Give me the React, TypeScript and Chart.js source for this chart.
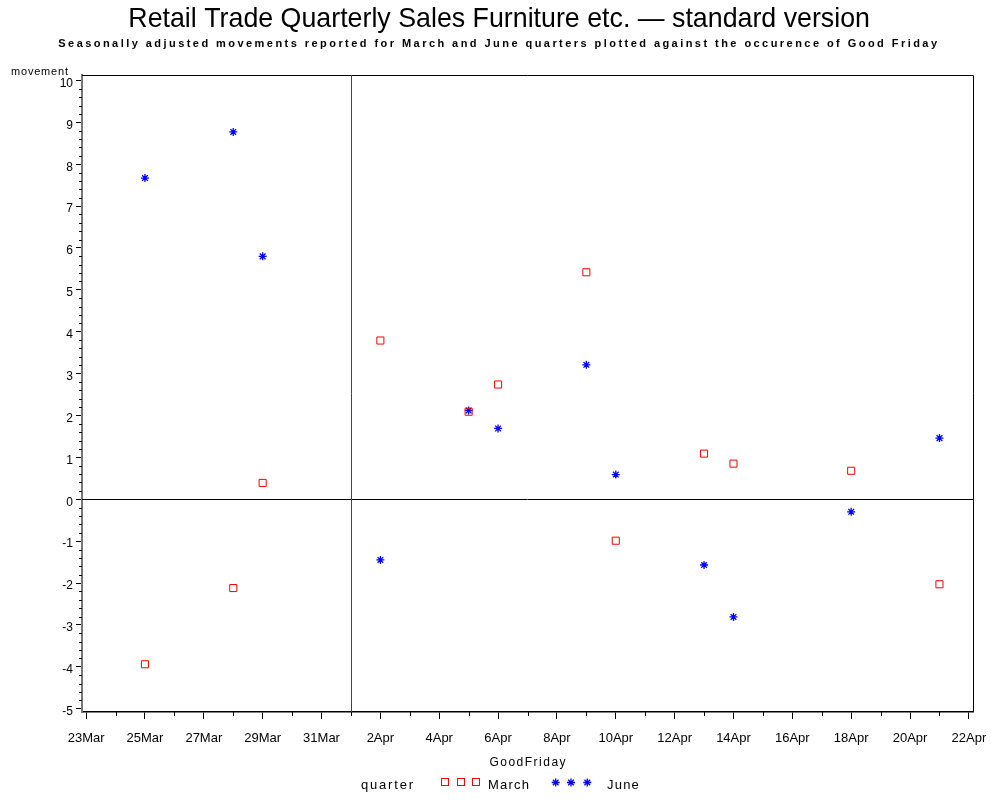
import React, { useEffect, useRef } from 'react';
import { Chart, registerables } from 'chart.js';

Chart.register(...registerables);

// ---------- data ----------
const xTickLabels = ['23Mar', '25Mar', '27Mar', '29Mar', '31Mar', '2Apr', '4Apr', '6Apr', '8Apr', '10Apr', '12Apr', '14Apr', '16Apr', '18Apr', '20Apr', '22Apr'];
const yTickValues = [-5, -4, -3, -2, -1, 0, 1, 2, 3, 4, 5, 6, 7, 8, 9, 10];
const goodFridayDates = ['25Mar', '28Mar', '29Mar', '2Apr', '5Apr', '6Apr', '9Apr', '10Apr', '13Apr', '14Apr', '18Apr', '21Apr'];
const marchValues = [-3.94, -2.12, 0.39, 3.79, 2.09, 2.74, 5.42, -0.99, 1.09, 0.85, 0.68, -2.03];
const juneValues = [7.67, 8.77, 5.8, -1.45, 2.12, 1.69, 3.21, 0.59, -1.57, -2.81, -0.3, 1.46];
const referenceDate = '1Apr';
const referenceValue = 0;
const seriesNames = ['March', 'June'];

const titleText = 'Retail Trade Quarterly Sales Furniture etc. \u2014 standard version';
const subtitleText = 'Seasonally adjusted movements reported for March and June quarters plotted against the occurence of Good Friday';
const yAxisTitle = 'movement';
const xAxisTitle = 'GoodFriday';
const legendTitle = 'quarter';

// days since 23 March
function dayOffset(label: string): number {
  const m = label.match(/(\d+)(Mar|Apr)/);
  if (!m) return 0;
  const d = parseInt(m[1], 10);
  return m[2] === 'Mar' ? d - 23 : d + 8;
}

const FONT = "'Liberation Sans', Arial, sans-serif";

function drawSpaced(ctx: CanvasRenderingContext2D, text: string, x: number, y: number, spacing: number, align: 'left' | 'center' = 'left') {
  let total = 0;
  const widths: number[] = [];
  for (const ch of text) {
    const w = ctx.measureText(ch).width;
    widths.push(w);
    total += w;
  }
  total += spacing * (widths.length - 1);
  let cx = align === 'center' ? x - total / 2 : x;
  ctx.textAlign = 'left';
  let i = 0;
  for (const ch of text) {
    ctx.fillText(ch, cx, y);
    cx += widths[i] + spacing;
    i++;
  }
}

function fitSpaced(ctx: CanvasRenderingContext2D, text: string, x0: number, x1: number, y: number) {
  let total = 0;
  const chars = Array.from(text);
  for (const ch of chars) total += ctx.measureText(ch).width;
  const spacing = (x1 - x0 - total) / (chars.length - 1);
  drawSpaced(ctx, text, x0, y, spacing, 'left');
}

function drawStar(ctx: CanvasRenderingContext2D, x: number, y: number, r: number) {
  ctx.beginPath();
  ctx.moveTo(x - r, y); ctx.lineTo(x + r, y);
  ctx.moveTo(x, y - r); ctx.lineTo(x, y + r);
  const d = r * Math.SQRT1_2;
  ctx.moveTo(x - d, y - d); ctx.lineTo(x + d, y + d);
  ctx.moveTo(x - d, y + d); ctx.lineTo(x + d, y - d);
  ctx.stroke();
}

const decorPlugin = {
  id: 'decor',
  afterDraw(chart: any) {
    const ctx: CanvasRenderingContext2D = chart.ctx;
    const { left, right, top, bottom } = chart.chartArea;
    const xs = chart.scales.x;
    const ys = chart.scales.y;
    ctx.save();

    // frame top/right
    ctx.strokeStyle = '#000';
    ctx.lineWidth = 1;
    ctx.beginPath();
    ctx.moveTo(left, top + 0.5);
    ctx.lineTo(right + 0.5, top + 0.5);
    ctx.lineTo(right + 0.5, bottom);
    ctx.stroke();

    // reference lines
    const y0 = Math.round(ys.getPixelForValue(referenceValue)) + 0.5;
    ctx.beginPath();
    ctx.moveTo(left, y0);
    ctx.lineTo(right, y0);
    ctx.stroke();
    const xr = Math.round(xs.getPixelForValue(dayOffset(referenceDate))) + 0.5;
    ctx.strokeStyle = '#444';
    ctx.beginPath();
    ctx.moveTo(xr, top);
    ctx.lineTo(xr, bottom);
    ctx.stroke();

    // minor ticks
    ctx.strokeStyle = '#000';
    ctx.beginPath();
    for (let d = 0; d <= 30; d++) {
      if (d % 2 === 0) continue;
      const px = Math.round(xs.getPixelForValue(d)) + 0.5;
      ctx.moveTo(px, bottom);
      ctx.lineTo(px, bottom + 4);
    }
    for (let i = -25; i <= 50; i++) {
      if (i % 5 === 0) continue;
      const py = Math.round(ys.getPixelForValue(i / 5)) + 0.5;
      ctx.moveTo(left, py);
      ctx.lineTo(left - 3, py);
    }
    ctx.stroke();

    ctx.fillStyle = '#000';
    ctx.textBaseline = 'alphabetic';

    // title
    ctx.font = `28px ${FONT}`;
    const tw = ctx.measureText(titleText).width;
    const tx0 = 128.3, tx1 = 870;
    ctx.save();
    ctx.translate(tx0, 27);
    ctx.scale((tx1 - tx0) / tw, 1);
    ctx.textAlign = 'left';
    ctx.fillText(titleText, 0, 0);
    ctx.restore();

    // subtitle
    ctx.font = `bold 11px ${FONT}`;
    fitSpaced(ctx, subtitleText, 58.3, 937, 47);

    // y axis title
    ctx.font = `11px ${FONT}`;
    drawSpaced(ctx, yAxisTitle, 11, 75, 0.8);

    // x axis title
    ctx.font = `12px ${FONT}`;
    drawSpaced(ctx, xAxisTitle, (left + right) / 2, 766, 1.5, 'center');

    // legend
    ctx.font = `13px ${FONT}`;
    drawSpaced(ctx, legendTitle, 361, 789, 1.8);
    ctx.lineWidth = 1;
    ctx.strokeStyle = '#ff0000';
    [444.3, 460, 475.7].forEach((cx) => {
      ctx.strokeRect(Math.round(cx - 3.5) + 0.5, Math.round(781.7 - 3.5) + 0.5, 7, 7);
    });
    ctx.fillStyle = '#000';
    drawSpaced(ctx, seriesNames[0], 488, 789, 1.2);
    ctx.strokeStyle = '#0000ff';
    ctx.lineWidth = 1.3;
    [555.7, 571, 587.3].forEach((cx) => drawStar(ctx, cx, 782.5, 4));
    drawSpaced(ctx, seriesNames[1], 607, 789, 1.2);

    ctx.restore();
  },
};

export default function App() {
  const ref = useRef<HTMLCanvasElement | null>(null);
  useEffect(() => {
    if (!ref.current) return;
    const xVals = goodFridayDates.map(dayOffset);
    const chart = new Chart(ref.current, {
      type: 'scatter',
      data: {
        datasets: [
          {
            label: seriesNames[0],
            data: xVals.map((x, i) => ({ x, y: marchValues[i] })),
            pointStyle: 'rect',
            radius: 5,
            borderColor: '#ff0000',
            backgroundColor: 'rgba(0,0,0,0)',
            borderWidth: 1,
          },
          {
            label: seriesNames[1],
            data: xVals.map((x, i) => ({ x, y: juneValues[i] })),
            pointStyle: 'star',
            radius: 4,
            borderColor: '#0000ff',
            backgroundColor: '#0000ff',
            borderWidth: 1.3,
          },
        ],
      },
      options: {
        responsive: false,
        animation: false,
        layout: { padding: { top: 75, right: 18, left: 0, bottom: 0 } },
        plugins: {
          legend: { display: false },
          title: { display: false },
          tooltip: { enabled: false },
        },
        scales: {
          x: {
            type: 'linear',
            min: -0.14,
            max: 30.14,
            afterFit: (s: any) => { s.height = 88; s.paddingLeft = 0; s.paddingRight = 0; },
            afterBuildTicks: (s: any) => { s.ticks = xTickLabels.map((l) => ({ value: dayOffset(l) })); },
            ticks: {
              autoSkip: false,
              maxRotation: 0,
              minRotation: 0,
              padding: 12,
              color: '#000',
              font: { family: FONT, size: 13 },
              callback: (v: any) => {
                const l = xTickLabels.find((t) => dayOffset(t) === v);
                return l ?? '';
              },
            },
            grid: { drawOnChartArea: false, drawTicks: true, tickLength: 7, color: '#000', lineWidth: 1 },
            border: { display: true, color: '#000', width: 1.5 },
          },
          y: {
            type: 'linear',
            min: -5.08,
            max: 10.13,
            afterFit: (s: any) => { s.width = 82; s.paddingTop = 0; s.paddingBottom = 0; },
            afterBuildTicks: (s: any) => { s.ticks = yTickValues.map((v) => ({ value: v })); },
            ticks: {
              autoSkip: false,
              padding: 3,
              labelOffset: 3,
              color: '#000',
              font: { family: FONT, size: 12 },
              callback: (v: any) => String(v),
            },
            grid: { drawOnChartArea: false, drawTicks: true, tickLength: 6, color: '#000', lineWidth: 1 },
            border: { display: true, color: '#777', width: 2 },
          },
        },
      },
      plugins: [decorPlugin],
    });
    return () => chart.destroy();
  }, []);

  return (
    <div style={{ position: 'absolute', left: 0, top: 0, width: 991, height: 800, background: '#fff' }}>
      <canvas ref={ref} width={991} height={800} />
    </div>
  );
}
